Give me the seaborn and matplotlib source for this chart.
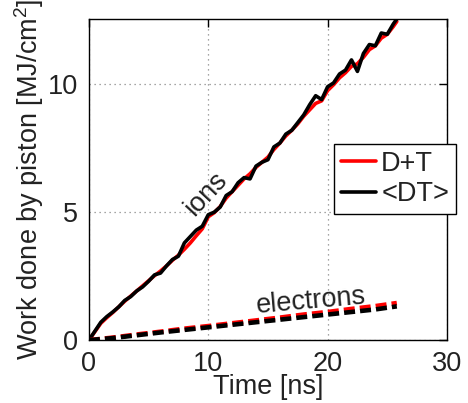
import numpy as np
import pandas as pd
import matplotlib
matplotlib.use("Agg")
import matplotlib.pyplot as plt
import seaborn as sns

# time grid of the ion curves [ns]
time_ions = [0.0, 0.5, 1.0, 1.5, 2.0, 2.5, 3.0, 3.5, 4.0, 4.5, 5.0, 5.5, 6.0, 6.5,
             7.0, 7.5, 8.0, 8.5, 9.0, 9.5, 10.0, 10.5, 11.0, 11.5, 12.0, 12.5, 13.0,
             13.5, 14.0, 14.5, 15.0, 15.5, 16.0, 16.5, 17.0, 17.5, 18.0, 18.5, 19.0,
             19.5, 20.0, 20.5, 21.0, 21.5, 22.0, 22.5, 23.0, 23.5, 24.0, 24.5, 25.0,
             25.5, 25.8]
# D+T ions (red) and <DT> ions (black) [MJ/cm^2]
ions_dt_sep = [0.00, 0.33, 0.66, 0.88, 1.08, 1.30, 1.52, 1.72, 1.92, 2.12, 2.32, 2.52,
               2.70, 2.90, 3.12, 3.32, 3.55, 3.80, 4.08, 4.35, 4.82, 4.98, 5.22, 5.55,
               5.80, 6.05, 6.30, 6.50, 6.75, 6.95, 7.15, 7.45, 7.70, 7.98, 8.20, 8.45,
               8.75, 9.00, 9.25, 9.35, 9.75, 9.98, 10.25, 10.45, 10.70, 10.80, 11.05,
               11.35, 11.50, 11.80, 11.95, 12.25, 12.45]
ions_dt_avg = [0.00, 0.35, 0.70, 0.92, 1.10, 1.30, 1.55, 1.70, 1.92, 2.08, 2.30, 2.55,
               2.62, 2.90, 3.15, 3.28, 3.80, 4.05, 4.30, 4.45, 4.90, 5.00, 5.20, 5.65,
               5.80, 6.15, 6.35, 6.30, 6.80, 6.95, 7.05, 7.55, 7.70, 8.05, 8.20, 8.50,
               8.80, 9.20, 9.55, 9.40, 9.90, 10.05, 10.40, 10.55, 10.95, 10.50, 11.20,
               11.55, 11.50, 12.00, 11.95, 12.35, 12.55]

# electrons
time_elec = [0.0, 2.0, 4.0, 6.0, 8.0, 10.0, 12.0, 14.0, 16.0, 18.0, 20.0, 22.0, 24.0, 25.8]
elec_dt_sep = [0.00, 0.10, 0.22, 0.33, 0.45, 0.55, 0.66, 0.77, 0.88, 1.00, 1.10, 1.22, 1.33, 1.45]
elec_dt_avg = [0.00, 0.08, 0.19, 0.30, 0.40, 0.50, 0.60, 0.70, 0.80, 0.90, 1.00, 1.10, 1.20, 1.32]

sns.set_style("white")
plt.rcParams['font.family'] = ['Liberation Sans', 'DejaVu Sans']
plt.rcParams['mathtext.fontset'] = 'custom'
plt.rcParams['mathtext.rm'] = 'Liberation Sans'

txt = '#222222'
fs = 19.5
fig = plt.figure(figsize=(4.68, 4.03), dpi=100)
ax = fig.add_axes([0.19, 0.156, 0.765, 0.797])

ions = pd.DataFrame({"t": time_ions, "sep": ions_dt_sep, "avg": ions_dt_avg})
elec = pd.DataFrame({"t": time_elec, "sep": elec_dt_sep, "avg": elec_dt_avg})

sns.lineplot(data=ions, x="t", y="sep", ax=ax, color="red", lw=2.6, label="D+T")
sns.lineplot(data=ions, x="t", y="avg", ax=ax, color="black", lw=2.6, label="<DT>")
sns.lineplot(data=elec, x="t", y="sep", ax=ax, color="red", lw=3.3, legend=False)
sns.lineplot(data=elec, x="t", y="avg", ax=ax, color="black", lw=3.3, legend=False)
for l in ax.lines[2:]:
    l.set_dashes([2.4, 1.1])

ax.set_xlim(0, 30)
ax.set_ylim(0, 12.55)
ax.set_xticks([0, 10, 20, 30])
ax.set_yticks([0, 5, 10])
ax.grid(True, linestyle=(0, (1, 3)), color='#888888', lw=0.9)
for s in ax.spines.values():
    s.set_color('black')
    s.set_linewidth(1.0)
ax.tick_params(direction='in', length=6, width=1, top=True, right=True,
               labelsize=fs, colors='black', labelcolor=txt, pad=8)

ax.set_xlabel("Time [ns]", fontsize=fs, color=txt, labelpad=-2)
ax.set_ylabel("Work done by piston [MJ/cm$^2$]", fontsize=fs, color=txt, labelpad=1)

ax.text(9.8, 5.7, "ions", rotation=47, fontsize=fs, color=txt, ha='center', va='center')
ax.text(18.6, 1.52, "electrons", rotation=5, fontsize=fs, color=txt, ha='center', va='center')

leg = ax.legend(loc='upper left', bbox_to_anchor=(0.684, 0.61), fontsize=fs,
                frameon=True, fancybox=False, framealpha=1, edgecolor='black',
                handlelength=1.3, handletextpad=0.2, borderpad=0.25, labelspacing=0.15,
                borderaxespad=0)
leg.get_frame().set_linewidth(1.0)
leg.set_zorder(5)
for t in leg.get_texts():
    t.set_color(txt)

fig.savefig("out.png", dpi=100)
